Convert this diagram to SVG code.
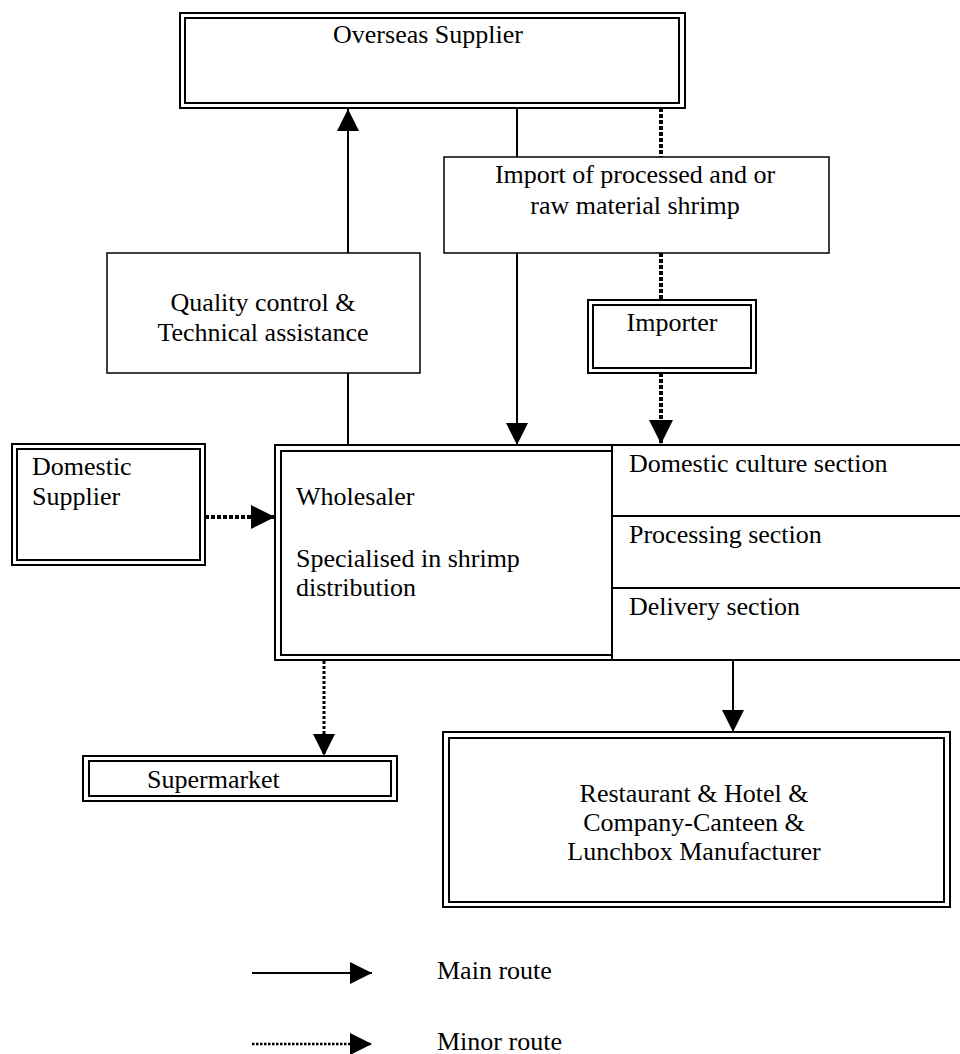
<svg xmlns="http://www.w3.org/2000/svg" width="960" height="1054" viewBox="0 0 960 1054">
<style>
  text { font-family: "Liberation Serif", "Times New Roman", serif; font-size: 26px; fill: #000; }
  .c { text-anchor: middle; }
  .box { fill: #fff; stroke: #000; stroke-width: 1.5; }
  .dbl { fill: none; stroke: #000; stroke-width: 2; }
  .solid { fill: none; stroke: #000; stroke-width: 2; }
  .dotThick { fill: none; stroke: #000; stroke-width: 4; stroke-dasharray: 4 2; }
  .dotMid { fill: none; stroke: #000; stroke-width: 3; stroke-dasharray: 3 2; }
  .dotThin { fill: none; stroke: #000; stroke-width: 2.5; stroke-dasharray: 2.5 1.5; }
</style>
<defs>
  <marker id="arrow" viewBox="0 0 22 22" refX="22" refY="11" markerWidth="22" markerHeight="22" markerUnits="userSpaceOnUse" orient="auto">
    <path d="M0,0 L22,11 L0,22 z" fill="#000"/>
  </marker>
  <marker id="arrowL" viewBox="0 0 24 24" refX="24" refY="12" markerWidth="24" markerHeight="24" markerUnits="userSpaceOnUse" orient="auto">
    <path d="M0,0 L24,12 L0,24 z" fill="#000"/>
  </marker>
</defs>
<rect width="960" height="1054" fill="#fff"/>

<g id="connectors">
  <line class="solid" x1="517" y1="108" x2="517" y2="157"/>
  <line class="solid" x1="517" y1="253" x2="517" y2="445" marker-end="url(#arrow)"/>
  <line class="dotThick" x1="661" y1="108" x2="661" y2="157"/>
  <line class="dotThick" x1="661" y1="253" x2="661" y2="300"/>
  <line class="dotThick" x1="661" y1="373" x2="661" y2="444" marker-end="url(#arrowL)"/>
  <line class="solid" x1="348" y1="253" x2="348" y2="109" marker-end="url(#arrow)"/>
  <line class="solid" x1="348" y1="373" x2="348" y2="445"/>
  <line class="dotThick" x1="205" y1="517" x2="275" y2="517" marker-end="url(#arrowL)"/>
  <line class="dotMid" x1="324" y1="661" x2="324" y2="756" marker-end="url(#arrow)"/>
  <line class="solid" x1="733" y1="660" x2="733" y2="732" marker-end="url(#arrow)"/>
</g>

<g id="overseas-supplier">
  <rect class="dbl" x="180" y="13" width="505" height="95"/>
  <rect class="dbl" x="185" y="18" width="494" height="85"/>
  <text class="c" x="428" y="43">Overseas Supplier</text>
</g>

<g id="import">
  <rect class="box" x="444" y="157" width="385" height="96"/>
  <text class="c" x="635" y="183">Import of processed and or</text>
  <text class="c" x="635" y="214">raw material shrimp</text>
</g>

<g id="quality-control">
  <rect class="box" x="107" y="253" width="313" height="120"/>
  <text class="c" x="263" y="311">Quality control &amp;</text>
  <text class="c" x="263" y="341">Technical assistance</text>
</g>

<g id="importer">
  <rect class="dbl" x="588" y="300" width="168" height="73"/>
  <rect class="dbl" x="593" y="305" width="158" height="63"/>
  <text class="c" x="672" y="331">Importer</text>
</g>

<g id="domestic-supplier">
  <rect class="dbl" x="12" y="444" width="193" height="121"/>
  <rect class="dbl" x="17" y="449" width="183" height="111"/>
  <text x="32" y="475">Domestic</text>
  <text x="32" y="505">Supplier</text>
</g>

<g id="wholesaler">
  <rect class="dbl" x="275" y="445" width="690" height="215"/>
  <rect class="dbl" x="281" y="451" width="331" height="204"/>
  <line class="dbl" x1="612" y1="445" x2="612" y2="660"/>
  <line class="dbl" x1="612" y1="516" x2="965" y2="516"/>
  <line class="dbl" x1="612" y1="588" x2="965" y2="588"/>
  <text x="296" y="505">Wholesaler</text>
  <text x="296" y="567">Specialised in shrimp</text>
  <text x="296" y="596">distribution</text>
  <text x="629" y="472">Domestic culture section</text>
  <text x="629" y="543">Processing section</text>
  <text x="629" y="615">Delivery section</text>
</g>

<g id="supermarket">
  <rect class="dbl" x="83" y="756" width="314" height="45"/>
  <rect class="dbl" x="89" y="761" width="302" height="35"/>
  <text x="147" y="788">Supermarket</text>
</g>

<g id="restaurant">
  <rect class="dbl" x="443" y="732" width="507" height="175"/>
  <rect class="dbl" x="449" y="738" width="495" height="164"/>
  <text class="c" x="694" y="802">Restaurant &amp; Hotel &amp;</text>
  <text class="c" x="694" y="831">Company-Canteen &amp;</text>
  <text class="c" x="694" y="860">Lunchbox Manufacturer</text>
</g>

<g id="legend">
  <line class="solid" x1="252" y1="973" x2="372" y2="973" marker-end="url(#arrow)"/>
  <text x="437" y="979">Main route</text>
  <line class="dotThin" x1="252" y1="1044" x2="372" y2="1044" marker-end="url(#arrow)"/>
  <text x="437" y="1050">Minor route</text>
</g>
</svg>
